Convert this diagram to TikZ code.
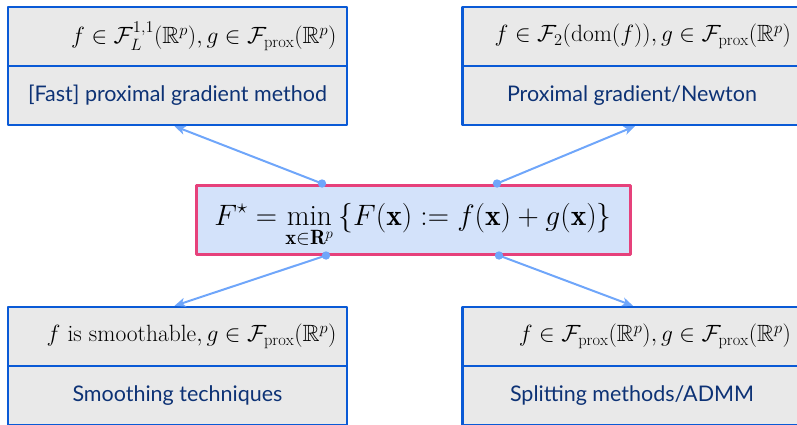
\RequirePackage{fix-cm}
\documentclass[tikz,border=0pt]{standalone}
\usepackage{amsmath,amssymb}
\usepackage{fontspec}
\newfontfamily\labelfont{Lato}
\usetikzlibrary{arrows.meta,calc}
\definecolor{boxBlue}{HTML}{0A5AD6}
\definecolor{boxGray}{HTML}{E9E9E9}
\definecolor{linkBlue}{HTML}{6FA6FA}
\definecolor{probPink}{HTML}{E6417B}
\definecolor{probFill}{HTML}{D3E2FA}
\definecolor{labelNavy}{HTML}{0D3275}

\begin{document}
\begin{tikzpicture}[x=1pt,y=-1pt,>=Stealth,line cap=round,line join=round]
\useasboundingbox (0,0) rectangle (797,424);
\clip (0,0) rectangle (797,424);
\tikzset{cond/.style={draw=boxBlue,fill=boxGray,line width=2.4pt,minimum width=339pt,minimum height=59pt,inner sep=0pt,text width=318pt,align=flush right,font=\fontsize{23.5}{28}\selectfont},meth/.style={cond,align=flush center,text=labelNavy,font=\labelfont\fontsize{21.5}{25}\selectfont},prob/.style={draw=probPink,fill=probFill,line width=3pt,minimum width=434pt,minimum height=69pt,inner sep=0pt,font=\fontsize{29.5}{34}\selectfont},link/.style={draw=linkBlue,line width=2pt,-{Stealth[length=11pt,width=9pt,inset=3pt]}},dot/.style={fill=linkBlue}}
% four method boxes
\node[cond] (tlcond) at (177.5,36.5) {$f\in\mathcal{F}_L^{1,1}(\mathbb{R}^p), g\in\mathcal{F}_{\mathrm{prox}}(\mathbb{R}^p)$};
\node[meth] (tlmeth) at (177.5,95.5) {[Fast] proximal gradient method};
\node[cond] (trcond) at (632,36.5) {$f\in\mathcal{F}_2(\mathrm{dom}(f)), g\in\mathcal{F}_{\mathrm{prox}}(\mathbb{R}^p)$};
\node[meth] (trmeth) at (632,95.5) {Proximal gradient/Newton};
\node[cond] (blcond) at (177.5,336.5) {$f~\text{is smoothable}, g\in\mathcal{F}_{\mathrm{prox}}(\mathbb{R}^p)$};
\node[meth] (blmeth) at (177.5,395.5) {Smoothing techniques};
\node[cond] (brcond) at (632,336.5) {$f\in\mathcal{F}_{\mathrm{prox}}(\mathbb{R}^p), g\in\mathcal{F}_{\mathrm{prox}}(\mathbb{R}^p)$};
\node[meth] (brmeth) at (632,395.5) {Splitting methods/ADMM};
% the problem
\node[prob,text depth=12pt,text height=24pt] (prob) at (413,219.5) {$\displaystyle F^\star = \min_{\mathbf{x}\in\mathbf{R}^p}\left\{F(\mathbf{x}) := f(\mathbf{x}) + g(\mathbf{x})\right\}$};
\coordinate (ptl) at ($(prob.north)+(-91,0)$);
\coordinate (ptr) at ($(prob.north)+(84,0)$);
\coordinate (pbl) at ($(prob.south)+(-87,0)$);
\coordinate (pbr) at ($(prob.south)+(86,0)$);
\draw[link] (ptl) -- ($(tlmeth.south)+(-3,0)$);
\draw[link] (ptr) -- ($(trmeth.south)+(3,0)$);
\draw[link] (pbl) -- ($(blcond.north)+(-3,0)$);
\draw[link] (pbr) -- ($(brcond.north)+(1,0)$);
\foreach \p in {ptl,ptr,pbl,pbr} \fill[dot] (\p) circle (4.2);
\end{tikzpicture}
\end{document}
